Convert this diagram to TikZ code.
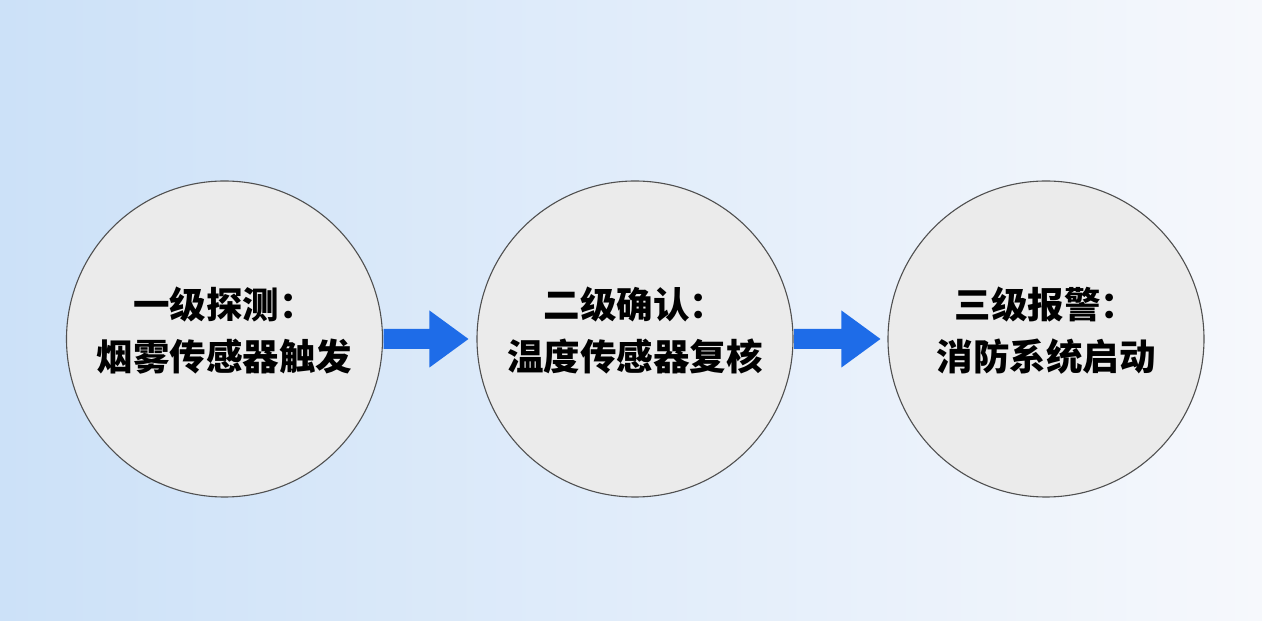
\documentclass[tikz,border=0pt]{standalone}
\usepackage{fontspec}
\newfontfamily\cjk{Noto Sans CJK SC}
\usetikzlibrary{calc}
\definecolor{bgL}{RGB}{204,225,248}
\definecolor{bgM}{RGB}{226,238,251}
\definecolor{bgR}{RGB}{246,248,252}
\definecolor{circfill}{RGB}{235,235,235}
\definecolor{circline}{RGB}{80,80,80}
\definecolor{arrowblue}{RGB}{30,108,232}
\tikzset{
  stage/.style={circle, minimum size=316pt, inner sep=0pt, fill=circfill, draw=circline, line width=1.1pt},
  stagetext/.style={font=\cjk\bfseries\fontsize{36.5}{52}\selectfont, align=center, text=black, inner sep=0pt},
  flowarrow/.style={fill=arrowblue}
}
\begin{document}
\begin{tikzpicture}[x=1pt,y=1pt]
\useasboundingbox (0,0) rectangle (1262,621);
\shade[left color=bgL, middle color=bgM, right color=bgR] (0,0) rectangle (1262,621);
\node[stage] (c1) at (224.5,282) {};
\node[stage] (c2) at (635,282) {};
\node[stage] (c3) at (1046,282) {};
\node[stagetext] (t1) at ($(c1)+(0,8)$) {一级探测：\\烟雾传感器触发};
\node[stagetext] (t2) at ($(c2)+(0,8)$) {二级确认：\\温度传感器复核};
\node[stagetext] (t3) at ($(c3)+(0,8)$) {三级报警：\\消防系统启动};
\coordinate (a1s) at ($(c1.east)+(0.6,0)$);
\coordinate (a1e) at ($(c2.west)+(-8,0)$);
\coordinate (a2s) at ($(c2.east)+(0.6,0)$);
\coordinate (a2e) at ($(c3.west)+(-7,0)$);
\fill[flowarrow] ($(a1s)+(0,10)$) -- ($(a1e)+(-39,10)$) -- ($(a1e)+(-39,28.5)$) -- (a1e) -- ($(a1e)+(-39,-28.5)$) -- ($(a1e)+(-39,-10)$) -- ($(a1s)+(0,-10)$) -- cycle;
\fill[flowarrow] ($(a2s)+(0,10)$) -- ($(a2e)+(-39,10)$) -- ($(a2e)+(-39,28.5)$) -- (a2e) -- ($(a2e)+(-39,-28.5)$) -- ($(a2e)+(-39,-10)$) -- ($(a2s)+(0,-10)$) -- cycle;
\end{tikzpicture}
\end{document}
